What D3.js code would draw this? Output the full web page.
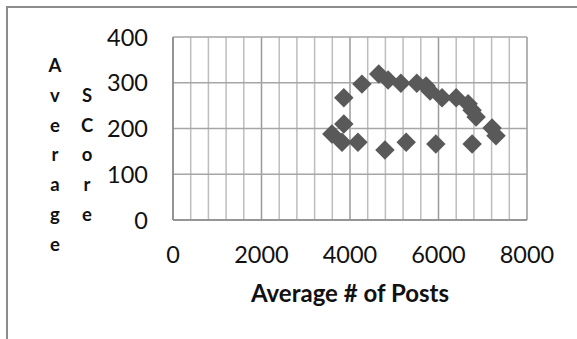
<!DOCTYPE html>
<html>
<head>
<meta charset="utf-8">
<script src="https://cdn.jsdelivr.net/npm/d3@7"></script>
<style>
  html, body { margin: 0; padding: 0; background: #fff; }
  svg { display: block; }
</style>
</head>
<body>
<svg id="chart" width="577" height="339"></svg>
<script>
// Average number of posts vs. average score
const avgPosts = [3590, 3820, 3860, 3860, 4180, 4270, 4650, 4860, 4790, 5150, 5270, 5510,
                  5720, 5810, 5940, 6080, 6400, 6670, 6760, 6850, 6760, 7210, 7300];
const avgScore = [188, 170, 210, 267, 170, 297, 319, 306, 153, 299, 170, 299,
                  293, 282, 166, 267, 267, 254, 240, 225, 166, 201, 184];

const xTicks = [0, 2000, 4000, 6000, 8000];
const yTicks = [0, 100, 200, 300, 400];
const xMinorStep = 400;
const xTitle = "Average # of Posts";
const yTitleCols = ["Average", "SCore"];

const svg = d3.select("#chart");
const W = 577, H = 339;
const plot = { left: 173, right: 527, top: 37, bottom: 220 };

const x = d3.scaleLinear().domain([0, 8000]).range([plot.left, plot.right]);
const y = d3.scaleLinear().domain([0, 400]).range([plot.bottom, plot.top]);

// outer chart frame (only top and left edges fall inside the view)
svg.append("path")
  .attr("d", `M7,${H + 5} L7,7 L${W + 5},7`)
  .attr("fill", "none").attr("stroke", "#8c8c8c").attr("stroke-width", 2);

const grid = svg.append("g");
// minor vertical gridlines
const minorX = d3.range(0, 8000 + 1, xMinorStep).filter(v => v % 2000 !== 0);
grid.selectAll("line.vminor").data(minorX).join("line")
  .attr("x1", d => x(d)).attr("x2", d => x(d))
  .attr("y1", plot.top).attr("y2", plot.bottom)
  .attr("stroke", "#bdbdbd").attr("stroke-width", 1.5);
// major vertical gridlines
grid.selectAll("line.vmajor").data(xTicks).join("line")
  .attr("x1", d => x(d)).attr("x2", d => x(d))
  .attr("y1", plot.top).attr("y2", plot.bottom)
  .attr("stroke", "#9a9a9a").attr("stroke-width", 1.5);
// horizontal gridlines
grid.selectAll("line.h").data(yTicks).join("line")
  .attr("x1", plot.left).attr("x2", plot.right)
  .attr("y1", d => y(d)).attr("y2", d => y(d))
  .attr("stroke", "#a6a6a6").attr("stroke-width", 1.5);
// axis lines
svg.append("line").attr("x1", plot.left).attr("x2", plot.left)
  .attr("y1", plot.top).attr("y2", plot.bottom)
  .attr("stroke", "#8a8a8a").attr("stroke-width", 1.5);
svg.append("line").attr("x1", plot.left).attr("x2", plot.right)
  .attr("y1", plot.bottom).attr("y2", plot.bottom)
  .attr("stroke", "#8a8a8a").attr("stroke-width", 1.5);

// tick labels
const tickFont = "Lato, 'Open Sans', sans-serif";
svg.append("g").selectAll("text").data(xTicks).join("text")
  .attr("x", d => x(d)).attr("y", 263)
  .attr("text-anchor", "middle")
  .attr("font-family", tickFont).attr("font-size", 23.5).attr("fill", "#111")
  .text(d => d);
svg.append("g").selectAll("text").data(yTicks).join("text")
  .attr("x", 148).attr("y", d => y(d) + 8.5)
  .attr("text-anchor", "end")
  .attr("font-family", tickFont).attr("font-size", 23.5).attr("fill", "#111")
  .text(d => d);

// axis titles
svg.append("text")
  .attr("x", 350).attr("y", 302)
  .attr("text-anchor", "middle")
  .attr("font-family", tickFont).attr("font-weight", "bold")
  .attr("font-size", 24).attr("fill", "#111")
  .text(xTitle);

const colX = [55, 87];
const colStartRow = [0, 1];
yTitleCols.forEach((word, ci) => {
  svg.append("g").selectAll("text").data(word.split("")).join("text")
    .attr("x", colX[ci])
    .attr("y", (d, i) => 72 + 29.8 * (i + colStartRow[ci]))
    .attr("text-anchor", "middle")
    .attr("font-family", tickFont).attr("font-weight", "bold")
    .attr("font-size", 18.5).attr("fill", "#111")
    .text(d => d);
});

// diamond markers
const pts = avgPosts.map((v, i) => ({ x: v, y: avgScore[i] }));
const diamond = d3.symbol().type(d3.symbolSquare).size(190);
svg.append("g").selectAll("path").data(pts).join("path")
  .attr("d", diamond)
  .attr("transform", d => `translate(${x(d.x)},${y(d.y)}) rotate(45)`)
  .attr("fill", "#595959");
</script>
</body>
</html>
